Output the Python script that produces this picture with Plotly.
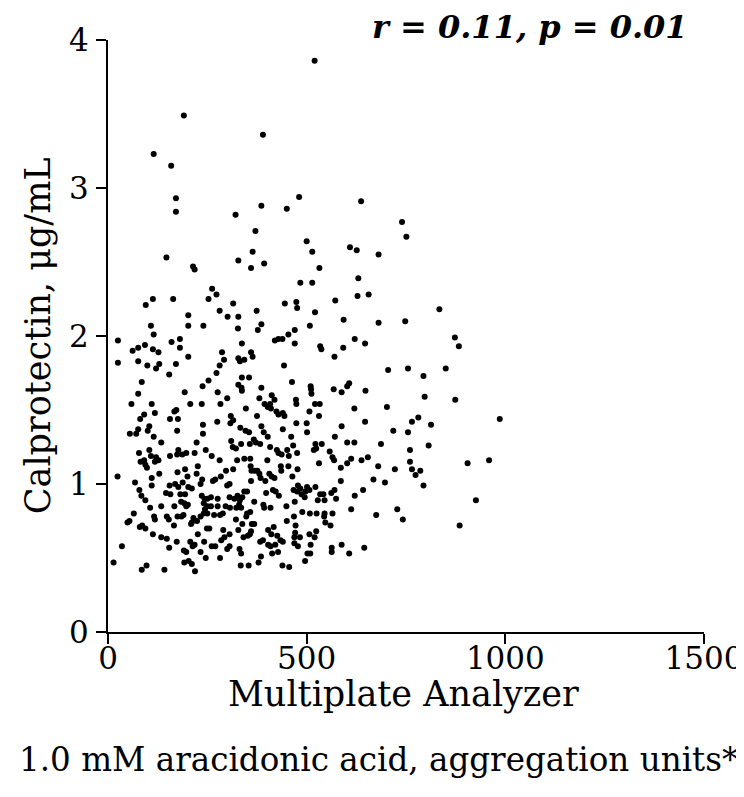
import plotly.graph_objects as go

# Multiplate Analyzer, aggregation units (x) and calprotectin, ug/mL (y)
agg_units = [
    191, 115, 159, 171, 171, 321,
    520, 390, 481, 386, 450, 637,
    740,
    147, 328, 214, 218, 262, 273, 253, 164, 113, 95,
    315, 281, 301, 328, 202, 202, 108, 240, 327, 115,
    25, 160, 181, 181, 62, 76, 93, 113, 127, 287,
    202, 25, 76, 99, 121, 129, 171, 154, 292, 281,
    328, 273, 253, 238, 85, 76, 193, 276, 300, 328,
    59, 110, 207, 236, 283,
    371, 500, 364, 514, 609, 626, 360, 393, 532, 484,
    514, 630, 628, 656, 572, 445, 474, 476, 521, 374,
    593, 386, 377, 508, 454, 470, 420, 429, 439, 470,
    337, 621, 647, 534, 537, 592, 570, 360, 364, 332,
    343, 443, 337, 355, 463, 336, 337, 386, 510, 511,
    512, 568, 588, 602, 607, 648, 412, 419, 381, 473,
    521, 533, 394, 408, 474,
    751, 681, 834, 681, 748, 873, 883, 705, 755, 794, 850, 797, 874,
    172, 167, 91, 118, 309, 156, 176, 81, 239, 275,
    308, 315, 104, 100, 76, 55, 71, 174, 239, 115,
    134, 223, 310, 314, 322, 78, 104, 177, 174, 156,
    187, 197, 218, 246, 121, 108, 261, 82, 91, 94,
    98, 118, 127, 281, 315, 297, 226, 194, 175, 129,
    110, 223, 237, 233, 200, 24, 270, 264, 284, 68,
    110, 155, 169, 188, 177, 202, 211, 300, 306, 79,
    84, 146, 157, 182, 194, 236, 243, 250, 94, 184,
    276, 259, 306, 318, 326, 241, 250, 244, 259, 201,
    197, 192, 167, 134, 106, 276, 296, 307, 323, 65,
    54, 49, 116, 118, 148, 153, 175, 185, 190, 215,
    211, 209, 224, 233, 241, 250, 267, 282, 289, 322,
    166, 249, 255, 80, 86, 94, 113, 134, 148, 226,
    290, 306, 173, 207, 213, 218, 242, 233, 261, 270,
    285, 293, 306, 300, 154, 35, 191, 197, 282, 246,
    192, 203, 211, 14, 97, 85, 142, 219,
    347, 402, 410, 424, 429, 440, 444, 507, 531, 375,
    620, 647, 588, 474, 500, 501, 333, 346, 355, 386,
    392, 402, 440, 461, 571, 367, 372, 383, 357, 335,
    408, 466, 522, 538, 524, 518, 602, 620, 425, 429,
    437, 451, 455, 476, 558, 565, 569, 654, 638, 612,
    602, 325, 343, 358, 401, 531, 586, 359, 361, 369,
    376, 381, 435, 436, 454, 477, 406, 412, 419, 384,
    396, 464, 360, 586, 478, 467, 476, 484, 501, 497,
    487, 495, 507, 522, 642, 621, 570, 562, 574, 534,
    542, 528, 545, 415, 422, 430, 398, 343, 350, 338,
    332, 368, 391, 393, 409, 330, 335, 350, 358, 449,
    470, 468, 450, 489, 508, 525, 545, 544, 547, 560,
    565, 612, 338, 348, 362, 368, 360, 328, 403, 417,
    411, 472, 471, 469, 469, 483, 478, 507, 520, 524,
    510, 509, 502, 341, 352, 357, 383, 390, 403, 409,
    421, 434, 426, 440, 331, 335, 413, 428, 385, 379,
    334, 354, 439, 456, 496, 563, 563, 588, 607, 645,
    702, 986, 781, 765, 813, 718, 755, 687, 807, 760,
    905, 959, 680, 722, 760, 765, 786, 774, 794, 668,
    697, 926, 728, 675, 742, 885,
]

calprotectin = [
    3.49, 3.23, 3.15, 2.93, 2.84, 2.82,
    3.86, 3.36, 2.94, 2.88, 2.86, 2.91,
    2.77,
    2.53, 2.51, 2.47, 2.45, 2.32, 2.28, 2.25, 2.25, 2.25, 2.21,
    2.22, 2.17, 2.13, 2.13, 2.14, 2.07, 2.07, 2.07, 2.05, 2.01,
    1.97, 1.96, 1.98, 1.92, 1.90, 1.92, 1.94, 1.91, 1.89, 1.89,
    1.86, 1.82, 1.83, 1.80, 1.78, 1.81, 1.81, 1.74, 1.84, 1.80,
    1.85, 1.75, 1.70, 1.66, 1.69, 1.61, 1.62, 1.62, 1.58, 1.67,
    1.54, 1.54, 1.54, 1.54, 1.54,
    2.71, 2.64, 2.57, 2.57, 2.60, 2.58, 2.46, 2.49, 2.46, 2.36,
    2.36, 2.39, 2.27, 2.28, 2.24, 2.22, 2.23, 2.19, 2.16, 2.17,
    2.11, 2.08, 2.04, 2.07, 2.01, 2.04, 1.97, 1.98, 1.98, 1.95,
    1.95, 1.98, 1.95, 1.93, 1.91, 1.92, 1.86, 1.89, 1.86, 1.83,
    1.84, 1.80, 1.72, 1.72, 1.69, 1.65, 1.63, 1.65, 1.66, 1.64,
    1.61, 1.64, 1.62, 1.66, 1.68, 1.63, 1.60, 1.57, 1.58, 1.57,
    1.54, 1.54, 1.54, 1.54, 1.54,
    2.67, 2.55, 2.18, 2.09, 2.10, 1.99, 1.93, 1.77, 1.78, 1.73, 1.78, 1.59, 1.57,
    1.50, 1.49, 1.47, 1.48, 1.46, 1.44, 1.44, 1.44, 1.40, 1.42,
    1.41, 1.43, 1.39, 1.36, 1.37, 1.34, 1.34, 1.36, 1.34, 1.32,
    1.28, 1.28, 1.29, 1.25, 1.24, 1.21, 1.23, 1.23, 1.20, 1.19,
    1.20, 1.21, 1.21, 1.23, 1.18, 1.19, 1.19, 1.15, 1.16, 1.13,
    1.11, 1.15, 1.16, 1.16, 1.10, 1.09, 1.12, 1.10, 1.08, 1.07,
    1.04, 1.07, 1.03, 1.00, 1.05, 1.05, 1.03, 1.02, 1.05, 1.01,
    0.99, 0.99, 1.00, 1.01, 0.98, 0.98, 0.97, 0.99, 1.00, 0.96,
    0.92, 0.94, 0.93, 0.93, 0.93, 0.92, 0.90, 0.90, 0.89, 0.88,
    0.90, 0.91, 0.91, 0.90, 0.92, 0.87, 0.85, 0.83, 0.85, 0.86,
    0.85, 0.87, 0.85, 0.85, 0.84, 0.85, 0.85, 0.84, 0.84, 0.80,
    0.75, 0.74, 0.78, 0.76, 0.78, 0.76, 0.78, 0.78, 0.79, 0.77,
    0.74, 0.73, 0.75, 0.78, 0.80, 0.80, 0.79, 0.79, 0.80, 0.76,
    0.72, 0.70, 0.70, 0.71, 0.72, 0.70, 0.66, 0.64, 0.63, 0.66,
    0.69, 0.66, 0.61, 0.61, 0.58, 0.59, 0.61, 0.54, 0.58, 0.58,
    0.62, 0.64, 0.58, 0.56, 0.57, 0.58, 0.55, 0.54, 0.50, 0.50,
    0.47, 0.48, 0.46, 0.47, 0.45, 0.42, 0.42, 0.41,
    1.51, 1.52, 1.51, 1.49, 1.47, 1.48, 1.46, 1.49, 1.46, 1.46,
    1.51, 1.42, 1.39, 1.41, 1.41, 1.35, 1.38, 1.36, 1.35, 1.39,
    1.35, 1.32, 1.37, 1.32, 1.32, 1.30, 1.28, 1.27, 1.27, 1.27,
    1.25, 1.26, 1.27, 1.27, 1.24, 1.23, 1.28, 1.28, 1.23, 1.21,
    1.20, 1.23, 1.19, 1.21, 1.22, 1.18, 1.16, 1.18, 1.16, 1.17,
    1.14, 1.16, 1.17, 1.17, 1.16, 1.14, 1.11, 1.12, 1.09, 1.09,
    1.09, 1.07, 1.12, 1.09, 1.12, 1.10, 1.07, 1.05, 1.04, 1.04,
    1.02, 1.05, 1.02, 1.02, 0.99, 0.96, 0.95, 0.97, 0.98, 0.95,
    0.93, 0.91, 0.96, 0.98, 0.96, 0.92, 0.96, 0.94, 0.90, 0.93,
    0.93, 0.89, 0.89, 0.96, 0.95, 0.92, 0.94, 0.95, 0.95, 0.91,
    0.89, 0.88, 0.86, 0.84, 0.84, 0.86, 0.84, 0.80, 0.81, 0.85,
    0.88, 0.78, 0.75, 0.81, 0.80, 0.80, 0.80, 0.78, 0.74, 0.72,
    0.80, 0.83, 0.73, 0.78, 0.73, 0.73, 0.68, 0.69, 0.69, 0.71,
    0.66, 0.72, 0.67, 0.64, 0.60, 0.64, 0.58, 0.66, 0.64, 0.68,
    0.59, 0.53, 0.53, 0.64, 0.65, 0.66, 0.61, 0.62, 0.59, 0.58,
    0.59, 0.62, 0.65, 0.61, 0.56, 0.53, 0.53, 0.54, 0.51, 0.47,
    0.45, 0.45, 0.45, 0.44, 0.48, 0.57, 0.54, 0.59, 0.53, 0.57,
    1.52, 1.44, 1.45, 1.42, 1.40, 1.36, 1.35, 1.27, 1.26, 1.23,
    1.14, 1.16, 1.12, 1.10, 1.15, 1.10, 1.09, 1.06, 0.99, 1.03,
    1.01, 0.89, 0.83, 0.79, 0.76, 0.72,
]

x_ticks = [0, 500, 1000, 1500]
y_ticks = [0, 1, 2, 3, 4]

title_text = "r = 0.11, p = 0.01"
x_title_1 = "Multiplate Analyzer"
x_title_2 = "1.0 mM aracidonic acid, aggregation units*"
y_title = "Calprotectin, μg/mL"

FONT = "DejaVu Serif"

fig = go.Figure(
    go.Scatter(
        x=agg_units,
        y=calprotectin,
        mode="markers",
        marker=dict(color="black", size=6, line=dict(width=0)),
        hoverinfo="x+y",
    )
)

axis_common = dict(
    showline=True,
    linecolor="black",
    linewidth=2,
    ticks="outside",
    ticklen=10,
    tickwidth=2,
    tickcolor="black",
    showgrid=False,
    zeroline=False,
    automargin=False,
    tickfont=dict(family=FONT, size=31, color="black"),
)

fig.update_xaxes(range=[0, 1500], tickvals=x_ticks, ticklabelstandoff=-12, **axis_common)
fig.update_yaxes(range=[0, 4], tickvals=y_ticks, ticklabelstandoff=1, **axis_common)

# page body adds an 8px offset, so margins are shifted by 8px
fig.update_layout(
    width=744,
    height=797,
    margin=dict(l=100, r=48, t=32, b=173),
    paper_bgcolor="white",
    plot_bgcolor="white",
    showlegend=False,
    font=dict(family=FONT, color="black"),
    annotations=[
        dict(text="<b><i>" + title_text + "</i></b>", xref="paper", yref="paper",
             x=0.9765, y=1.022, xanchor="right", yanchor="middle", showarrow=False,
             font=dict(family=FONT, size=32, color="black")),
        dict(text=x_title_1, xref="paper", yref="paper",
             x=0.495, y=-0.105, xanchor="center", yanchor="middle", showarrow=False,
             font=dict(family=FONT, size=35, color="black")),
        dict(text=x_title_2, xref="paper", yref="paper",
             x=1.0604, y=-0.217, xanchor="right", yanchor="middle", showarrow=False,
             font=dict(family=FONT, size=32.6, color="black")),
        dict(text=y_title, xref="paper", yref="paper", textangle=-90,
             x=-0.117, y=0.5, xanchor="center", yanchor="middle", showarrow=False,
             font=dict(family=FONT, size=35, color="black")),
    ],
)

fig.write_html("out.html")
